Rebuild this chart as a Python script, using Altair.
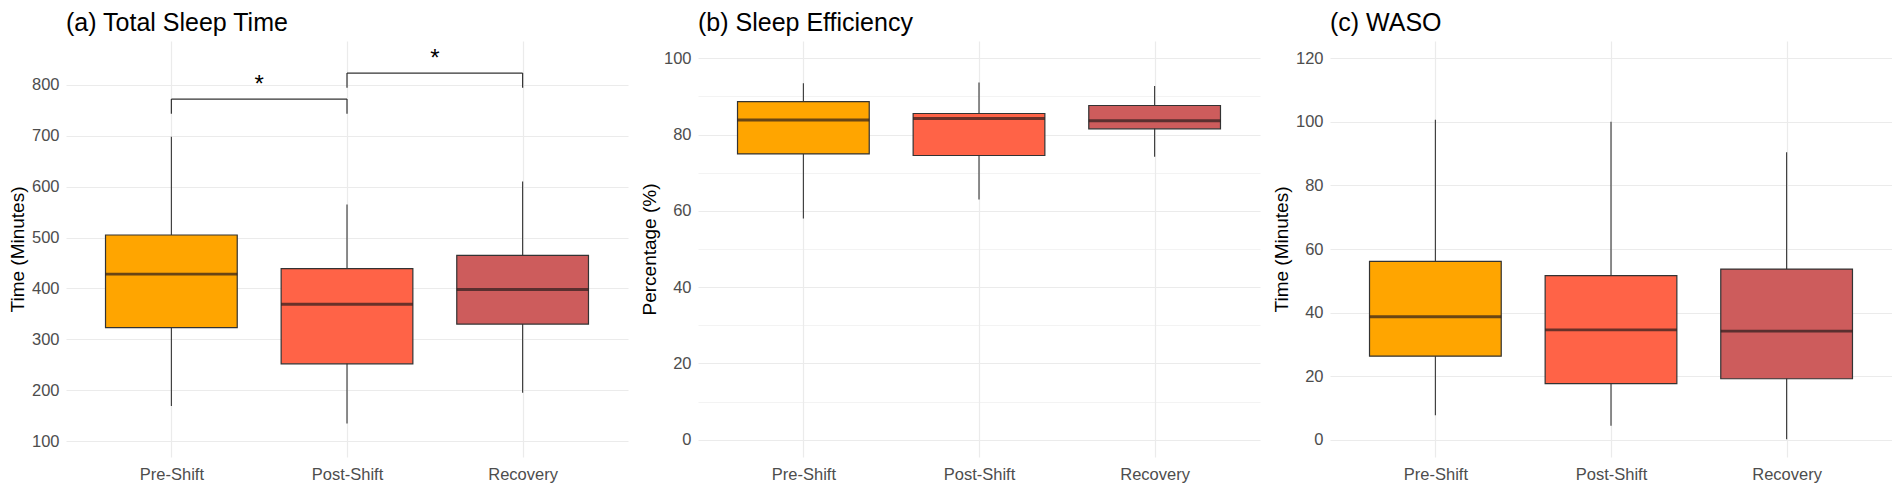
import altair as alt
import pandas as pd

FONT = "Liberation Sans"

groups = ["Pre-Shift", "Post-Shift", "Recovery"]
fill_colors = ["#FFA500", "#FF6347", "#CD5C5C"]

# (a) Total Sleep Time (minutes)
tst_lower = [169, 135, 195]
tst_q1 = [323, 252, 330]
tst_median = [428, 369, 398]
tst_q3 = [505, 439, 465]
tst_upper = [698, 565, 610]
tst_major = [100, 200, 300, 400, 500, 600, 700, 800]
tst_minor = [150, 250, 350, 450, 550, 650, 750, 850]
tst_domain = [69, 886]

# (b) Sleep Efficiency (%)
se_lower = [58.0, 63.0, 74.2]
se_q1 = [74.9, 74.5, 81.5]
se_median = [83.8, 84.2, 83.6]
se_q3 = [88.6, 85.5, 87.6]
se_upper = [93.4, 93.6, 92.7]
se_major = [0, 20, 40, 60, 80, 100]
se_minor = [10, 30, 50, 70, 90]
se_domain = [-4.5, 104.5]

# (c) WASO (minutes)
waso_lower = [7.7, 4.4, 0.2]
waso_q1 = [26.3, 17.7, 19.2]
waso_median = [38.7, 34.6, 34.2]
waso_q3 = [56.1, 51.6, 53.7]
waso_upper = [100.6, 100.0, 90.4]
waso_major = [0, 20, 40, 60, 80, 100, 120]
waso_minor = [10, 30, 50, 70, 90, 110]
waso_domain = [-5.4, 125.4]

# significance brackets for (a)
sig_start = ["Pre-Shift", "Post-Shift"]
sig_end = ["Post-Shift", "Recovery"]
sig_y = [772, 823]
sig_tip = [743, 794]
sig_label = ["*", "*"]

W = 562
H = 416
BOX_HALF = 0.375
STEP = W / 3.2
X_DOMAIN = [0.4, 3.6]

x_label_expr = "['Pre-Shift','Post-Shift','Recovery'][datum.value - 1]"


def panel(title, ytitle, lower, q1, med, q3, upper, major, minor, domain, sig=False):
    df = pd.DataFrame({
        "group": groups,
        "pos": [i + 1 for i in range(len(groups))],
        "lower": lower, "q1": q1, "median": med, "q3": q3, "upper": upper,
    })
    test = "indexof(" + str(major) + ", datum.value) >= 0"
    xs = alt.Scale(domain=X_DOMAIN, nice=False, zero=False)
    xaxis = alt.Axis(values=[1, 2, 3], labelExpr=x_label_expr, title=None,
                     grid=True, gridWidth=1.2, labelPadding=9)
    ys = alt.Scale(domain=domain, nice=False, zero=False)
    yaxis = alt.Axis(values=sorted(major + minor), title=ytitle,
                     labelExpr=test + " ? datum.label : ''",
                     gridWidth={"condition": {"test": test, "value": 1.2}, "value": 0.6},
                     labelPadding=7, minExtent=34, maxExtent=34, titlePadding=5)
    color = alt.Color("group:N", scale=alt.Scale(domain=groups, range=fill_colors), legend=None)

    base = alt.Chart(df)
    whisk = base.mark_rule(color="#333333", strokeWidth=1.1).encode(
        x=alt.X("pos:Q", scale=xs, axis=xaxis),
        y=alt.Y("lower:Q", scale=ys, axis=yaxis),
        y2="upper:Q",
    )
    box = base.transform_calculate(
        xl="datum.pos - %f" % BOX_HALF, xr="datum.pos + %f" % BOX_HALF
    ).mark_rect(stroke="#333333", strokeWidth=1.2).encode(
        x="xl:Q", x2="xr:Q", y="q1:Q", y2="q3:Q", fill=color,
    )
    medline = base.mark_tick(color="#2a1c1c", thickness=2.8, orient="horizontal",
                             size=2 * BOX_HALF * STEP).encode(
        x="pos:Q", y="median:Q",
    )
    layers = [whisk, box, medline]
    if sig:
        idx = {g: i + 1 for i, g in enumerate(groups)}
        sdf = pd.DataFrame({
            "xs": [idx[s] for s in sig_start], "xe": [idx[e] for e in sig_end],
            "y": sig_y, "tip": sig_tip, "label": sig_label,
        })
        tips = pd.DataFrame({
            "x": [idx[s] for s in sig_start] + [idx[e] for e in sig_end],
            "y": sig_y + sig_y, "tip": sig_tip + sig_tip,
        })
        hbar = alt.Chart(sdf).mark_rule(color="#333333", strokeWidth=1.2).encode(
            x="xs:Q", x2="xe:Q", y="y:Q")
        vbar = alt.Chart(tips).mark_rule(color="#333333", strokeWidth=1.2).encode(
            x="x:Q", y="tip:Q", y2="y:Q")
        star = alt.Chart(sdf).transform_calculate(xm="(datum.xs + datum.xe) / 2").mark_text(
            font=FONT, fontSize=24, color="black", baseline="alphabetic", dy=-7
        ).encode(x="xm:Q", y="y:Q", text="label:N")
        layers += [hbar, vbar, star]
    return alt.layer(*layers).properties(
        width=W, height=H,
        title=alt.TitleParams(title, anchor="start", frame="group", fontSize=25,
                              fontWeight="normal", color="black", font=FONT, offset=5),
    )


pa = panel("(a) Total Sleep Time", "Time (Minutes)", tst_lower, tst_q1, tst_median,
           tst_q3, tst_upper, tst_major, tst_minor, tst_domain, sig=True)
pb = panel("(b) Sleep Efficiency", "Percentage (%)", se_lower, se_q1, se_median,
           se_q3, se_upper, se_major, se_minor, se_domain)
pc = panel("(c) WASO", "Time (Minutes)", waso_lower, waso_q1, waso_median,
           waso_q3, waso_upper, waso_major, waso_minor, waso_domain)

chart = alt.hconcat(pa, pb, pc, spacing=12).properties(
    padding={"left": 0, "top": 3, "right": 0, "bottom": 0}, background="white"
).configure_view(stroke=None).configure_axis(
    domain=False, ticks=False, labelFont=FONT, titleFont=FONT,
    labelColor="#4d4d4d", labelFontSize=16.5, titleFontSize=19,
    titleFontWeight="normal", titleColor="black", gridColor="#ebebeb",
)

chart.save("out.html", embed_options={"renderer": "svg", "actions": False})
